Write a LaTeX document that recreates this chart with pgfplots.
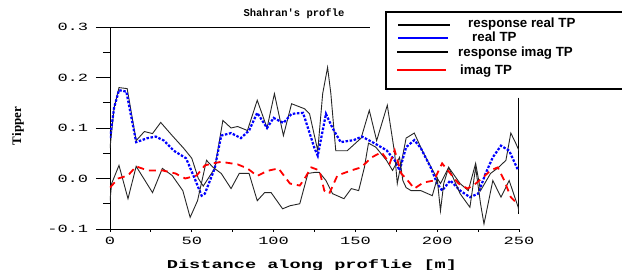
\documentclass[border=0pt]{standalone}
\usepackage{fontspec}
\setmainfont{Liberation Sans}
\newfontfamily\tickfont[FakeStretch=1.55]{Liberation Mono}
\newfontfamily\labfont[FakeStretch=1.55]{Liberation Mono}
\newfontfamily\titfont{Liberation Mono}
\newfontfamily\serfont{Liberation Serif}
\usepackage{pgfplots}
\pgfplotsset{compat=1.18}
\begin{document}
\begin{tikzpicture}
\useasboundingbox (-110pt,-41pt) rectangle (512pt,229pt);
\begin{axis}[
  at={(0pt,0pt)}, anchor=south west,
  scale only axis, width=409pt, height=202pt,
  xmin=0, xmax=250, ymin=-0.1, ymax=0.3,
  axis x line*=bottom, axis y line*=left,
  axis line style={black, line width=0.9pt, -},
  tick align=outside,
  xtick={0,50,100,150,200,250}, xticklabels={0,50,100,150,200,250},
  minor xtick={25,75,125,175,225},
  ytick={-0.1,0,0.1,0.2,0.3}, yticklabels={-0.1,0.0,0.1,0.2,0.3},
  minor ytick={-0.05,0.05,0.15,0.25},
  xtick style={/pgfplots/major tick length=3pt,/pgfplots/minor tick length=3pt, black, line width=0.8pt},
  ytick style={/pgfplots/major tick length=14pt,/pgfplots/minor tick length=7pt, black, line width=0.8pt},
  ticklabel style={font=\tickfont\fontsize{11}{12}\selectfont},
  yticklabel style={xshift=-14pt},
]
\addplot[black, line width=1pt] coordinates {(250,0.16) (250,-0.07)};
% response real TP
\addplot[black!85, line width=0.9pt]
 coordinates {(0,0.06) (2.5,0.14) (5.5,0.18) (10.5,0.178) (16,0.075) (21,0.093) (26,0.089) (31,0.111) (38,0.085) (45,0.06) (50,0.04) (54,0.0) (57,-0.015) (60,0.0) (64,0.02) (69,0.115) (74,0.10) (78,0.103) (84,0.095) (90,0.155) (96,0.10) (100.5,0.168) (106,0.085) (111,0.148) (119,0.138) (122,0.128) (127,0.055) (130,0.168) (133,0.22) (135,0.168) (138,0.055) (145,0.055) (153.5,0.08) (158.5,0.135) (163,0.075) (169.5,0.145) (174,0.05) (175.6,-0.01) (178,0.03) (181,0.08) (186,0.09) (191.6,0.05) (199,0.006) (202,-0.01) (207,0.022) (214,-0.01) (219,-0.024) (223.5,0.03) (226.5,-0.024) (232.6,0.01) (237.5,0.022) (242,0.036) (245,0.09) (248,0.07) (250,0.055)};
% real TP
\addplot[blue, line width=2.2pt, dash pattern=on 2.5pt off 1.6pt]
 coordinates {(0,0.08) (2.5,0.14) (5.5,0.175) (10,0.172) (16,0.072) (23,0.08) (28,0.083) (33,0.075) (39,0.055) (46.5,0.04) (51.5,0.002) (56,-0.034) (58,-0.03) (64,0.02) (68,0.085) (74,0.09) (80,0.08) (85,0.095) (90,0.13) (96,0.1) (100,0.12) (106,0.11) (111,0.128) (118,0.13) (125,0.06) (127,0.045) (132,0.128) (136,0.1) (141,0.072) (149,0.076) (154,0.083) (161.5,0.07) (169,0.056) (174,0.036) (177,0.016) (181,0.062) (186,0.076) (190,0.06) (196,0.022) (200,-0.01) (203,-0.024) (208,-0.004) (214,-0.024) (220,-0.037) (225,-0.03) (229.6,0.01) (234,0.042) (239,0.065) (244,0.055) (249.5,0.016)};
% response imag TP
\addplot[black!85, line width=0.9pt]
 coordinates {(0,-0.044) (1,-0.01) (5.5,0.026) (11,-0.04) (16,0.024) (26,-0.028) (32,0.02) (38,0.006) (44.5,-0.024) (49,-0.077) (53.5,-0.044) (59,0.036) (63,0.022) (68,0.01) (74,-0.02) (79,0.01) (85,0.01) (90,-0.044) (94.5,-0.028) (98.5,-0.028) (105.5,-0.06) (110,-0.054) (116,-0.05) (121,0.01) (125,0.012) (128,0.012) (132,-0.004) (136,-0.03) (143,-0.04) (147.5,-0.02) (152,-0.024) (155.5,0.022) (158,0.07) (162.5,0.062) (169,0.036) (172.7,0.016) (177,0.042) (179,-0.004) (181,-0.018) (184,-0.024) (190,-0.024) (197,-0.034) (200,0) (202,-0.064) (204,-0.01) (207,0.022) (214,-0.03) (220,-0.057) (223.5,0.022) (226.5,-0.05) (228.6,-0.09) (234,-0.004) (239,-0.037) (244,-0.004) (249.5,-0.057) (250,-0.066)};
% imag TP
\addplot[red, line width=1.8pt, dash pattern=on 7pt off 5pt]
 coordinates {(0,-0.018) (5,0) (11,0.006) (16,0.024) (23,0.016) (32,0.016) (40,0.01) (46,0) (53,0.006) (58,0.026) (63,0.03) (68,0.033) (78,0.028) (84,0.02) (90,0.005) (96,0.015) (103,0.02) (110,-0.01) (116,-0.014) (119,0) (123,0.022) (128,0.016) (131,-0.024) (134,-0.03) (139,0.006) (147.5,0.016) (153.5,0.022) (160,0.042) (166,0.052) (171,0.03) (174,0.056) (178,0.01) (182,-0.004) (186,-0.02) (191.6,-0.008) (198,-0.004) (203,0.03) (208,0.01) (213,-0.01) (218.6,-0.02) (223.5,-0.01) (228,0.002) (232.6,0.016) (237,0.022) (241,-0.004) (245,-0.037) (249,-0.05)};
\draw[black, line width=0.8pt] (axis cs:0,0.3) -- (axis cs:159,0.3);
\end{axis}
% legend
\draw[black, line width=1.6pt, fill=white] (276pt,217pt) rectangle (515pt,140pt);
\draw[black, line width=1.4pt] (288pt,204pt) -- (340pt,204pt);
\draw[blue, line width=1.5pt] (288pt,191pt) -- (338pt,191pt);
\draw[black, line width=1.4pt] (287pt,177pt) -- (338pt,177pt);
\draw[red, line width=1.6pt] (287pt,159pt) -- (336pt,159pt);
\begin{scope}[every node/.style={anchor=base west, inner sep=0pt, font=\bfseries\fontsize{13.3}{15}\selectfont}]
\node at (358pt,201pt) {response real TP};
\node at (362pt,187pt) {real TP};
\node at (348pt,172pt) {response imag TP};
\node at (350pt,154pt) {imag TP};
\end{scope}
\node[font=\titfont\bfseries\fontsize{10.5}{12}\selectfont] at (184pt,215pt) {Shahran's profle};
\node[font=\labfont\bfseries\fontsize{12}{14}\selectfont] at (202pt,-36pt) {Distance along proflie [m]};
\node[font=\serfont\bfseries\fontsize{13}{14}\selectfont, rotate=90] at (-92pt,103pt) {Tipper};
\end{tikzpicture}
\end{document}
